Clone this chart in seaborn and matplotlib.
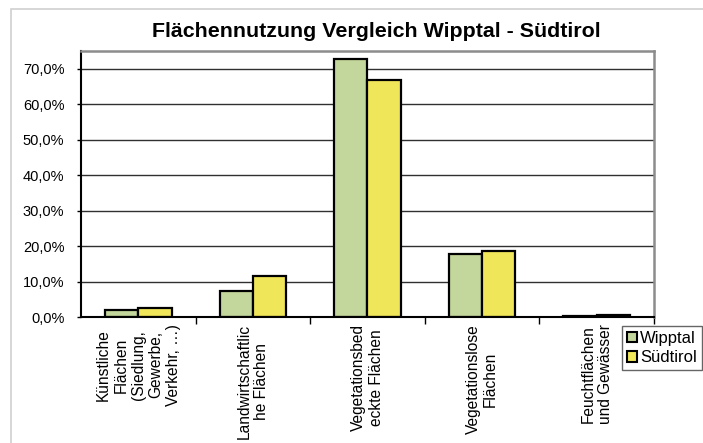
import pandas as pd
import matplotlib.pyplot as plt
import seaborn as sns
from matplotlib.patches import Patch, Rectangle
from matplotlib.ticker import FuncFormatter, FixedLocator

# Data (shares of total area)
categories = [
    "Künstliche\nFlächen\n(Siedlung,\nGewerbe,\nVerkehr, …)",
    "Landwirtschaftlic\nhe Flächen",
    "Vegetationsbed\neckte Flächen",
    "Vegetationslose\nFlächen",
    "Feuchtflächen\nund Gewässer",
]
wipptal = [0.019, 0.074, 0.728, 0.178, 0.004]
suedtirol = [0.024, 0.117, 0.669, 0.187, 0.005]
series = ["Wipptal", "Südtirol"]
colors = ["#C3D69B", "#F0E65A"]

df = pd.DataFrame({
    "Kategorie": categories * 2,
    "Anteil": wipptal + suedtirol,
    "Gebiet": [series[0]] * len(categories) + [series[1]] * len(categories),
})

sns.set_style("white")
plt.rcParams["font.family"] = ["Liberation Sans", "DejaVu Sans"]
plt.rcParams["text.color"] = "black"
plt.rcParams["xtick.color"] = "black"
plt.rcParams["ytick.color"] = "black"

fig = plt.figure(figsize=(7.03, 4.43), dpi=100)
ax = fig.add_axes([0.1152, 0.2844, 0.8150, 0.6005])

# light grey chart frame
fig.patches.append(Rectangle((11 / 703, -0.1), 1.2, 1.1 - 9 / 443,
                             transform=fig.transFigure, fill=False,
                             edgecolor="#d0d0d0", linewidth=1.2, zorder=0))

sns.barplot(data=df, x="Kategorie", y="Anteil", hue="Gebiet", palette=colors,
            saturation=1, width=0.58, edgecolor="black", linewidth=1.6,
            ax=ax, legend=False)

ax.set_ylim(0, 0.75)
ax.set_xlim(-0.5, len(categories) - 0.5)
ax.set_yticks([i / 10 for i in range(8)])
ax.yaxis.set_major_formatter(FuncFormatter(lambda v, _: f"{v * 100:.1f}%".replace(".", ",")))
ax.yaxis.grid(True, color="#303030", linewidth=1)
ax.set_axisbelow(True)

ax.set_xticks(range(len(categories)))
ax.set_xticklabels(categories, rotation=90, multialignment="center", fontsize=11.2)
ax.xaxis.set_minor_locator(FixedLocator([i + 0.5 for i in range(len(categories))]))
ax.tick_params(axis="x", which="major", length=0, pad=5)
ax.tick_params(axis="x", which="minor", length=5, width=1, color="black", direction="out", bottom=True)
ax.tick_params(axis="y", length=3, width=1, color="black", direction="out", left=True,
               labelsize=10.5, pad=9)

ax.set_xlabel("")
ax.set_ylabel("")

for side in ["left", "bottom"]:
    ax.spines[side].set_color("black")
    ax.spines[side].set_linewidth(1.5)
for side in ["top", "right"]:
    ax.spines[side].set_color("#8c8c8c")
    ax.spines[side].set_linewidth(1.8)

fig.text(0.535, 0.930, "Flächennutzung Vergleich Wipptal - Südtirol",
         ha="center", va="center", fontsize=15.4, fontweight="bold")

handles = [Patch(facecolor=c, edgecolor="black", linewidth=1.5, label=s)
           for c, s in zip(colors, series)]
fig.legend(handles=handles, loc="upper left", bbox_to_anchor=(622 / 703, 1 - 326 / 443),
           fontsize=12, frameon=True, fancybox=False, edgecolor="#404040",
           handlelength=0.6, handleheight=0.6, handletextpad=0.2,
           borderpad=0.3, labelspacing=0.25, borderaxespad=0)

plt.savefig("out.png", dpi=100)
plt.close()
